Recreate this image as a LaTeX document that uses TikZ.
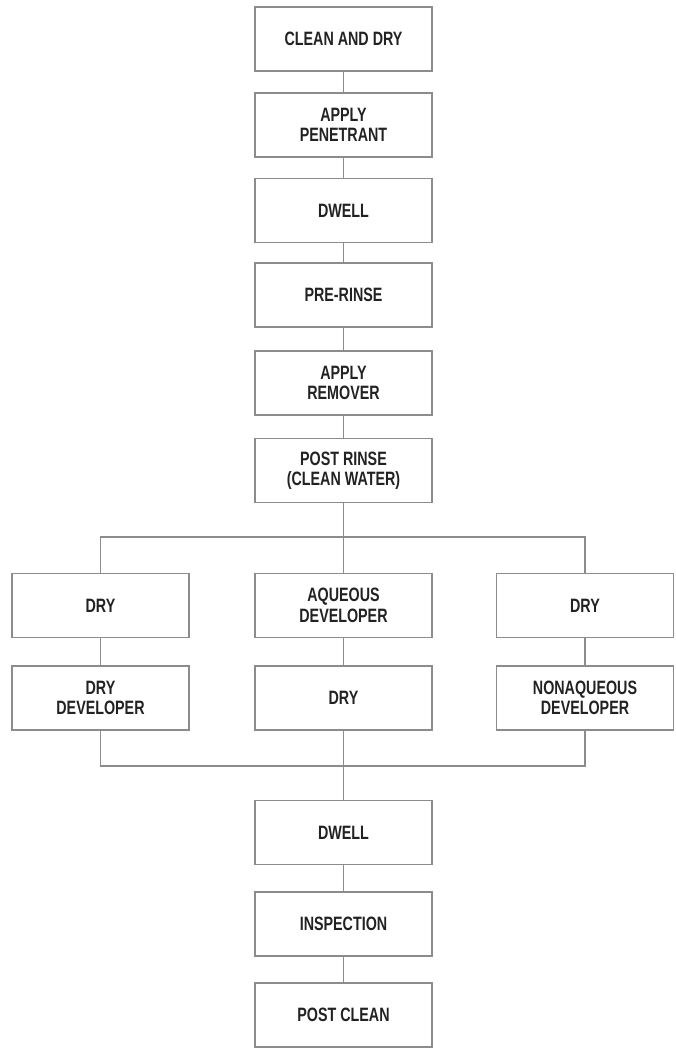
\documentclass[tikz,border=0pt]{standalone}
\usepackage{fontspec}
\newfontfamily\dobozfont[FakeStretch=0.74]{Liberation Sans}
\definecolor{vonal}{HTML}{8C8C8C}
\definecolor{betu}{HTML}{222222}
\tikzset{
	doboz/.style={draw=vonal, line width=0.8pt, minimum width=3.54cm, minimum height=1.28cm, inner sep=0pt,
		align=center, text=betu, font=\dobozfont\bfseries\fontsize{11}{11.6}\selectfont},
	kapcsolo/.style={draw=vonal, line width=0.8pt}
}
\begin{document}
\begin{tikzpicture}
	\useasboundingbox (0,0) rectangle (13.52,-20.98);
	%fő lépések
	\node [doboz] (tisztit) at (6.87,-0.78) {CLEAN AND DRY};
	\node [doboz] (penetrant) at (6.87,-2.50) {APPLY\\PENETRANT};
	\node [doboz] (dwellA) at (6.87,-4.21) {DWELL};
	\node [doboz] (preoblit) at (6.87,-5.90) {PRE-RINSE};
	\node [doboz] (remover) at (6.87,-7.66) {APPLY\\REMOVER};
	\node [doboz] (postoblit) at (6.87,-9.41) {POST RINSE\\(CLEAN WATER)};
	
	%három ág
	\node [doboz] (balSzarit) at (2.01,-12.11) {DRY};
	\node [doboz] (balDev) at (2.01,-13.96) {DRY\\DEVELOPER};
	\node [doboz] (kozepDev) at (6.87,-12.11) {AQUEOUS\\DEVELOPER};
	\node [doboz] (kozepSzarit) at (6.87,-13.96) {DRY};
	\node [doboz] (jobbSzarit) at (11.70,-12.11) {DRY};
	\node [doboz] (jobbDev) at (11.70,-13.96) {NONAQUEOUS\\DEVELOPER};
	
	%záró lépések
	\node [doboz] (dwellB) at (6.87,-16.65) {DWELL};
	\node [doboz] (vizsgalat) at (6.87,-18.48) {INSPECTION};
	\node [doboz] (utotisztit) at (6.87,-20.30) {POST CLEAN};
	
	%összekötések
	\draw [kapcsolo] (tisztit) -- (penetrant);
	\draw [kapcsolo] (penetrant) -- (dwellA);
	\draw [kapcsolo] (dwellA) -- (preoblit);
	\draw [kapcsolo] (preoblit) -- (remover);
	\draw [kapcsolo] (remover) -- (postoblit);
	\coordinate (elagazas) at (6.87,-10.74);
	\coordinate (gyujto) at (6.87,-15.32);
	\draw [kapcsolo] (postoblit) -- (kozepDev);
	\draw [kapcsolo] (balSzarit.north) |- (elagazas) -| (jobbSzarit.north);
	\draw [kapcsolo] (balSzarit) -- (balDev);
	\draw [kapcsolo] (kozepDev) -- (kozepSzarit);
	\draw [kapcsolo] (jobbSzarit) -- (jobbDev);
	\draw [kapcsolo] (kozepSzarit) -- (dwellB);
	\draw [kapcsolo] (balDev.south) |- (gyujto) -| (jobbDev.south);
	\draw [kapcsolo] (dwellB) -- (vizsgalat);
	\draw [kapcsolo] (vizsgalat) -- (utotisztit);
\end{tikzpicture}
\end{document}
